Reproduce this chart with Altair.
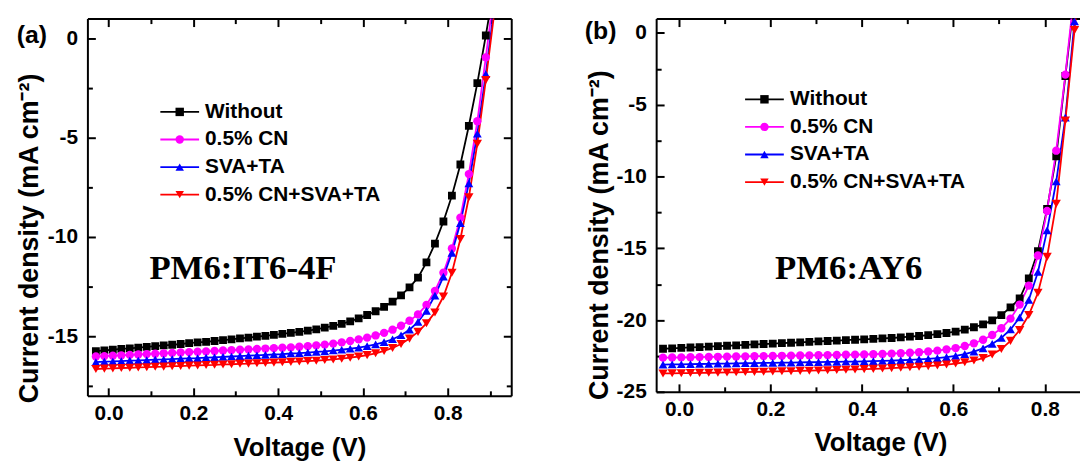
import altair as alt
import pandas as pd

SERIES = ["Without", "0.5% CN", "SVA+TA", "0.5% CN+SVA+TA"]
LINE_KEYS = ["1", "2", "3", "4"]       # hidden keys for the line-stroke legend
SIZE_KEYS = ["s1", "s2", "s3", "s4"]   # hidden keys for marker sizes
COLORS = ["#000000", "#FF00FF", "#0000FF", "#FF0000"]
SHAPES = ["square", "circle", "triangle-up", "triangle-down"]
SIZES = [62, 88, 115, 115]

# ---- panel (a) PM6:IT6-4F ----
V_A = [-0.03, -0.01, 0.01, 0.03, 0.05, 0.07, 0.09, 0.11, 0.13, 0.15,
       0.17, 0.19, 0.21, 0.23, 0.25, 0.27, 0.29, 0.31, 0.33, 0.35,
       0.37, 0.39, 0.41, 0.43, 0.45, 0.47, 0.49, 0.51, 0.53, 0.55,
       0.57, 0.59, 0.61, 0.63, 0.65, 0.67, 0.69, 0.71, 0.73, 0.75,
       0.77, 0.79, 0.81, 0.83, 0.85, 0.87, 0.89, 0.91]
A_WITHOUT = [-15.75, -15.71, -15.68, -15.64, -15.61, -15.57, -15.54, -15.50, -15.46, -15.43,
             -15.39, -15.35, -15.31, -15.28, -15.24, -15.20, -15.16, -15.11, -15.07, -15.02,
             -14.98, -14.93, -14.88, -14.83, -14.78, -14.72, -14.65, -14.57, -14.48, -14.38,
             -14.25, -14.10, -13.93, -13.74, -13.52, -13.26, -12.94, -12.54, -12.05, -11.28,
             -10.33, -9.22, -7.92, -6.35, -4.40, -2.25, 0.15, 2.7]
A_CN = [-16.02, -16.00, -15.98, -15.96, -15.94, -15.92, -15.90, -15.88, -15.86, -15.84,
        -15.82, -15.80, -15.78, -15.76, -15.74, -15.72, -15.70, -15.68, -15.66, -15.64,
        -15.62, -15.60, -15.58, -15.56, -15.53, -15.50, -15.46, -15.42, -15.37, -15.31,
        -15.24, -15.16, -15.07, -14.96, -14.83, -14.67, -14.47, -14.22, -13.90, -13.42,
        -12.72, -11.80, -10.58, -9.03, -6.83, -4.17, -0.95, 2.4]
A_SVA = [-16.30, -16.28, -16.27, -16.25, -16.23, -16.22, -16.20, -16.18, -16.17, -16.15,
         -16.13, -16.11, -16.10, -16.08, -16.06, -16.04, -16.02, -16.00, -15.98, -15.96,
         -15.94, -15.92, -15.90, -15.87, -15.85, -15.82, -15.79, -15.76, -15.72, -15.68,
         -15.63, -15.57, -15.50, -15.41, -15.30, -15.15, -14.95, -14.67, -14.28, -13.72,
         -12.95, -12.00, -10.80, -9.30, -7.30, -4.80, -1.80, 1.6]
A_ALL = [-16.65, -16.63, -16.62, -16.60, -16.59, -16.57, -16.56, -16.54, -16.53, -16.51,
         -16.50, -16.48, -16.47, -16.45, -16.44, -16.42, -16.41, -16.39, -16.38, -16.36,
         -16.35, -16.33, -16.31, -16.29, -16.27, -16.25, -16.23, -16.20, -16.17, -16.13,
         -16.08, -16.02, -15.95, -15.86, -15.74, -15.59, -15.39, -15.12, -14.78, -14.35,
         -13.80, -13.00, -11.80, -10.10, -8.00, -5.30, -2.10, 1.3]

# ---- panel (b) PM6:AY6 ----
V_B = [-0.035, -0.015, 0.005, 0.025, 0.045, 0.065, 0.085, 0.105, 0.125, 0.145,
       0.165, 0.185, 0.205, 0.225, 0.245, 0.265, 0.285, 0.305, 0.325, 0.345,
       0.365, 0.385, 0.405, 0.425, 0.445, 0.465, 0.485, 0.505, 0.525, 0.545,
       0.565, 0.585, 0.605, 0.625, 0.645, 0.665, 0.685, 0.705, 0.725, 0.745,
       0.765, 0.785, 0.805, 0.825, 0.845, 0.865, 0.885]
B_WITHOUT = [-22.00, -21.97, -21.94, -21.91, -21.88, -21.85, -21.82, -21.79, -21.76, -21.73,
             -21.70, -21.67, -21.64, -21.61, -21.58, -21.55, -21.52, -21.49, -21.46, -21.43,
             -21.40, -21.37, -21.34, -21.31, -21.28, -21.25, -21.21, -21.16, -21.11, -21.05,
             -20.98, -20.90, -20.80, -20.67, -20.50, -20.30, -20.02, -19.65, -19.12, -18.50,
             -17.10, -15.20, -12.26, -8.60, -3.00, 2.50, 8.0]
B_CN = [-22.62, -22.61, -22.60, -22.59, -22.58, -22.57, -22.56, -22.55, -22.54, -22.53,
        -22.52, -22.51, -22.50, -22.49, -22.48, -22.47, -22.46, -22.45, -22.44, -22.43,
        -22.42, -22.41, -22.40, -22.38, -22.36, -22.34, -22.31, -22.28, -22.24, -22.19,
        -22.13, -22.05, -21.95, -21.81, -21.62, -21.37, -21.04, -20.57, -19.90, -18.92,
        -17.60, -15.50, -12.40, -8.20, -2.90, 3.0, 9.0]
B_SVA = [-23.10, -23.09, -23.08, -23.07, -23.06, -23.05, -23.04, -23.03, -23.02, -23.01,
         -23.00, -22.99, -22.98, -22.97, -22.96, -22.95, -22.94, -22.93, -22.92, -22.91,
         -22.90, -22.89, -22.88, -22.86, -22.84, -22.82, -22.80, -22.77, -22.74, -22.70,
         -22.65, -22.58, -22.49, -22.37, -22.20, -21.97, -21.66, -21.24, -20.66, -19.82,
         -18.60, -16.65, -13.75, -10.35, -5.90, 0.8, 7.0]
B_ALL = [-23.72, -23.71, -23.70, -23.69, -23.68, -23.67, -23.66, -23.65, -23.64, -23.62,
         -23.61, -23.60, -23.58, -23.57, -23.56, -23.54, -23.53, -23.51, -23.50, -23.48,
         -23.46, -23.44, -23.42, -23.40, -23.38, -23.35, -23.32, -23.29, -23.25, -23.21,
         -23.16, -23.10, -23.03, -22.94, -22.82, -22.65, -22.40, -22.02, -21.45, -20.70,
         -19.65, -18.10, -15.60, -11.90, -6.10, 0.2, 6.5]

X_MAJOR = [0.0, 0.2, 0.4, 0.6, 0.8]
A_X_MINOR = [0.1, 0.3, 0.5, 0.7, 0.9]
B_X_MINOR = [0.1, 0.3, 0.5, 0.7]
A_Y_MAJOR = [0, -5, -10, -15]
A_Y_MINOR = [-2.5, -7.5, -12.5, -17.5]
B_Y_MAJOR = [0, -5, -10, -15, -20, -25]
B_Y_MINOR = [-2.5, -7.5, -12.5, -17.5, -22.5]

ANNOT_A = {"V": [0.317], "J": [-12.1], "label": ["PM6:IT6-4F"]}
ANNOT_B = {"V": [0.371], "J": [-17.15], "label": ["PM6:AY6"]}
TAGS = ["(a)", "(b)"]

X_TITLE = "Voltage (V)"
Y_TITLE = "Current density (mA cm\u207b\u00b2)"

FONT = "Liberation Sans"
SERIF = "Liberation Serif"


def make_df(volts, cols):
    rows = []
    for name, key, skey, vals in zip(SERIES, LINE_KEYS, SIZE_KEYS, cols):
        assert len(vals) == len(volts), (name, len(vals), len(volts))
        for v, j in zip(volts, vals):
            rows.append({"V": v, "J": j, "line_key": key, "size_key": skey, "series": name})
    return pd.DataFrame(rows)


def tick_axis(orient, values, size):
    return alt.Axis(orient=orient, values=values, tickSize=size, offset=-size,
                    tickWidth=2, tickColor="black", labels=False, domain=False,
                    grid=False, title=None)


def edge_axis(orient):
    return alt.Axis(orient=orient, domain=True, domainWidth=2, domainColor="black",
                    ticks=False, labels=False, grid=False, title=None)


def panel(df, cfg):
    xs = alt.Scale(domain=cfg["xdom"], zero=False, nice=False)
    ys = alt.Scale(domain=cfg["ydom"], zero=False, nice=False)
    base = alt.Chart(df)

    x_main = alt.Axis(orient="bottom", values=X_MAJOR, format=".1f", tickSize=0,
                      labelPadding=7, domain=True, domainWidth=2, domainColor="black",
                      grid=False, labelFont=FONT, labelFontSize=21, labelFontWeight="bold",
                      labelColor="black", labelFlush=False, labelOverlap=False,
                      title=X_TITLE, titleFont=FONT, titleFontSize=26, titleFontWeight="bold",
                      titleColor="black", titleX=cfg["xtitle"][0], titleY=cfg["xtitle"][1],
                      titleBaseline="alphabetic", titleAlign="center")
    y_main = alt.Axis(orient="left", values=cfg["ymajor"],
                      labelExpr="datum.value < 0 ? '-' + abs(datum.value) : '' + datum.value",
                      tickSize=0, labelPadding=10, domain=True, domainWidth=2,
                      domainColor="black", grid=False, labelFont=FONT, labelFontSize=21,
                      labelFontWeight="bold", labelColor="black", labelFlush=False,
                      labelOverlap=False, title=Y_TITLE, titleFont=FONT, titleFontSize=27,
                      titleFontWeight="bold", titleColor="black", titleAngle=270,
                      titleX=cfg["ytitle"][0], titleY=cfg["ytitle"][1],
                      titleBaseline="middle", titleAlign="center")

    lx, ly, loff = cfg["legend"]
    common = dict(orient="none", legendX=lx, legendY=ly, title=None, symbolSize=72,
                  labelFont=FONT, labelFontSize=21, labelFontWeight="bold",
                  rowPadding=5.8, padding=0, labelOffset=loff, labelLimit=0)
    leg_lines = alt.Legend(symbolType="M-4.6,0H4.6", symbolStrokeWidth=1.8,
                           labelExpr="''", **common)
    leg_marks = alt.Legend(symbolStrokeWidth=0, labelColor="black", **common)

    lines = base.mark_line(clip=True, strokeWidth=1.8).encode(
        x=alt.X("V:Q", scale=xs, axis=x_main),
        y=alt.Y("J:Q", scale=ys, axis=y_main),
        color=alt.Color("line_key:N", scale=alt.Scale(range=COLORS), legend=leg_lines),
    )
    points = base.mark_point(filled=True, clip=True, opacity=1, strokeWidth=0).encode(
        x=alt.X("V:Q", scale=xs, axis=tick_axis("bottom", X_MAJOR, 8)),
        y=alt.Y("J:Q", scale=ys, axis=tick_axis("left", cfg["ymajor"], 8)),
        fill=alt.Fill("series:N", scale=alt.Scale(domain=SERIES, range=COLORS),
                      legend=leg_marks),
        shape=alt.Shape("series:N", scale=alt.Scale(domain=SERIES, range=SHAPES),
                        legend=leg_marks),
        size=alt.Size("size_key:N", scale=alt.Scale(range=SIZES), legend=None),
    )
    minor_bl = base.mark_line(opacity=0, clip=True).encode(
        x=alt.X("V:Q", scale=xs, axis=tick_axis("bottom", cfg["xminor"], 5)),
        y=alt.Y("J:Q", scale=ys, axis=tick_axis("left", cfg["yminor"], 5)),
        detail="series:N",
    )
    right = cfg["right"]
    major_tr = base.mark_line(opacity=0, clip=True).encode(
        x=alt.X("V:Q", scale=xs, axis=tick_axis("top", X_MAJOR, 8)),
        y=alt.Y("J:Q", scale=ys, axis=tick_axis("right", cfg["ymajor"], 8) if right else None),
        detail="series:N",
    )
    minor_tr = base.mark_line(opacity=0, clip=True).encode(
        x=alt.X("V:Q", scale=xs, axis=tick_axis("top", cfg["xminor"], 5)),
        y=alt.Y("J:Q", scale=ys, axis=tick_axis("right", cfg["yminor"], 5) if right else None),
        detail="series:N",
    )
    edges = base.mark_line(opacity=0, clip=True).encode(
        x=alt.X("V:Q", scale=xs, axis=edge_axis("top")),
        y=alt.Y("J:Q", scale=ys, axis=edge_axis("right") if right else None),
        detail="series:N",
    )
    annot = alt.Chart(pd.DataFrame(cfg["annot"])).mark_text(
        font=SERIF, fontSize=35, fontWeight="bold", color="black",
        align="center", baseline="alphabetic",
    ).encode(
        x=alt.X("V:Q", scale=xs, axis=None),
        y=alt.Y("J:Q", scale=ys, axis=None),
        text="label:N",
    )
    tag = alt.Chart(pd.DataFrame({"tag": [cfg["tag"]]})).mark_text(
        font=FONT, fontSize=25, fontWeight="bold", color="black",
        align="center", baseline="middle",
    ).encode(
        x=alt.value(cfg["tagpos"][0]),
        y=alt.value(cfg["tagpos"][1]),
        text="tag:N",
    )
    return alt.layer(lines, points, minor_bl, major_tr, minor_tr, edges, annot, tag).resolve_axis(
        x="independent", y="independent"
    ).properties(width=cfg["w"], height=cfg["h"])


cfg_a = dict(xdom=[-0.05, 0.95], ydom=[-18, 1], xminor=A_X_MINOR, ymajor=A_Y_MAJOR,
             yminor=A_Y_MINOR, w=427, h=380, right=True, legend=(82.5, 83.5, 15),
             annot=ANNOT_A, tag=TAGS[0], tagpos=(-56, 17), ytitle=(-58, 221),
             xtitle=(213.5, 60))
cfg_b = dict(xdom=[-0.05, 0.877], ydom=[-25, 1], xminor=B_X_MINOR, ymajor=B_Y_MAJOR,
             yminor=B_Y_MINOR, w=427, h=376, right=False, legend=(98.6, 70.8, 15.2),
             annot=ANNOT_B, tag=TAGS[1], tagpos=(-56, 12.5), ytitle=(-56.7, 217.7),
             xtitle=(226, 59))

pa = panel(make_df(V_A, [A_WITHOUT, A_CN, A_SVA, A_ALL]), cfg_a)
pb = panel(make_df(V_B, [B_WITHOUT, B_CN, B_SVA, B_ALL]), cfg_b)

chart = alt.hconcat(pa, pb, spacing=146, bounds="flush").resolve_scale(
    color="independent", fill="independent", shape="independent", size="independent"
).resolve_legend(
    color="independent", fill="independent", shape="independent", size="independent"
).properties(
    padding={"left": 7, "top": 8, "right": 0, "bottom": 0}
).configure_view(stroke=None)

chart.save("out.html", embed_options={"renderer": "svg", "actions": False})
